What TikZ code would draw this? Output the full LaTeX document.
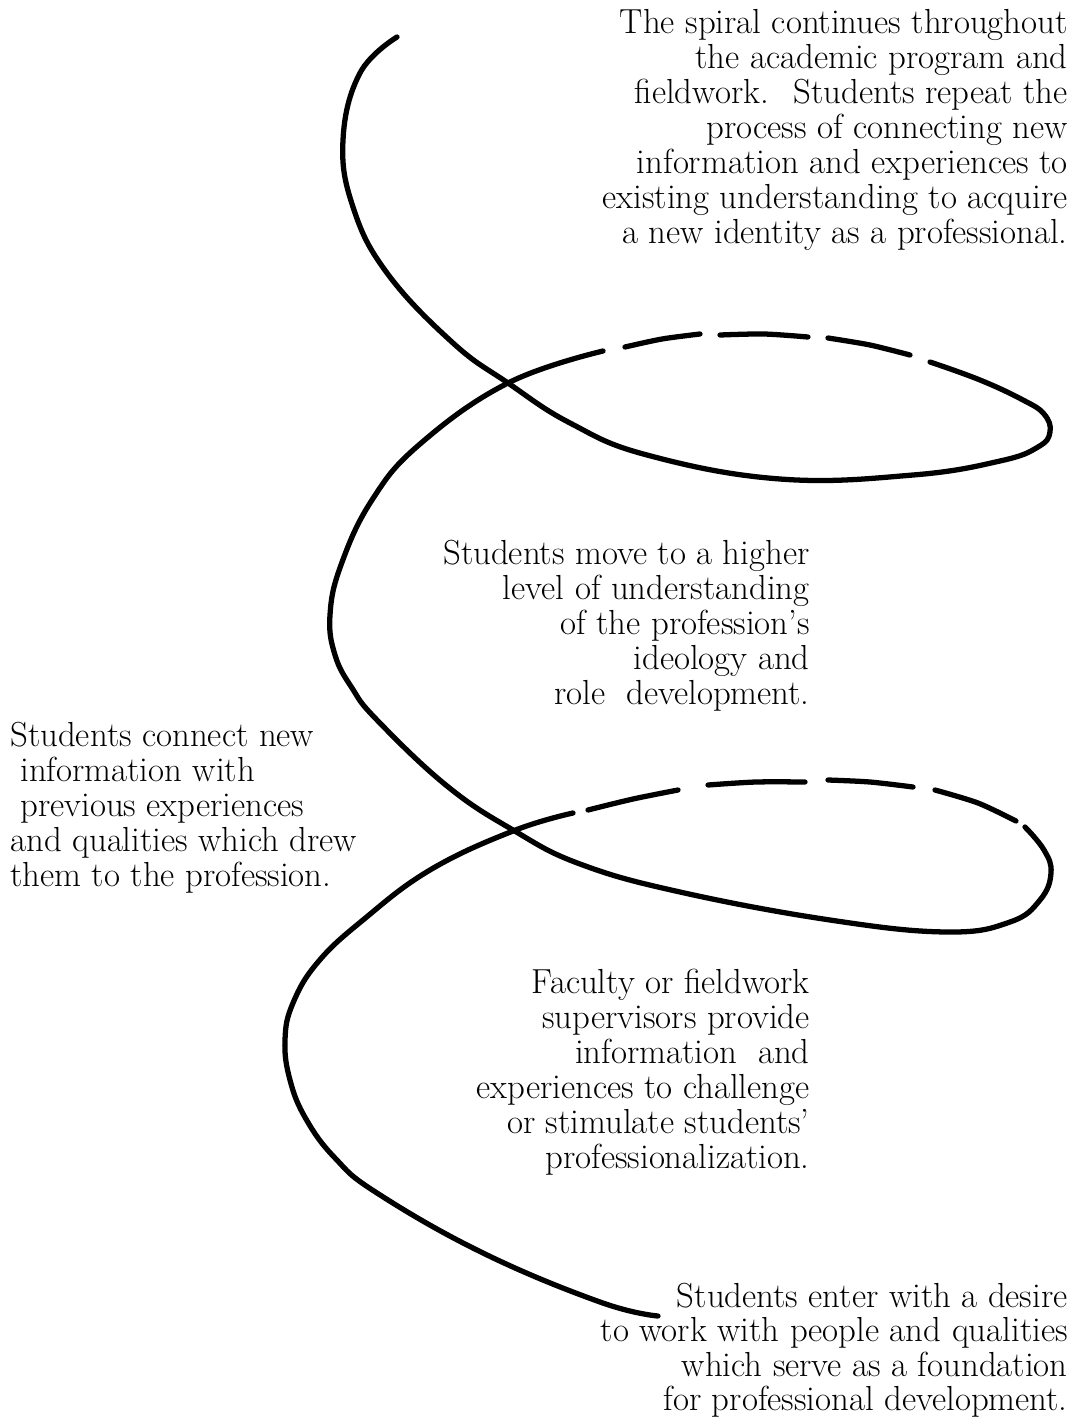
\documentclass[tikz,border=0pt]{standalone}
\usepackage{tikz}

\begin{document}
\begin{tikzpicture}[x=0.02cm, y=-0.02cm]
% Define the looks used below
\pgfmathsetmacro{\W}{3}
\tikzset{spiral/.style={line width=\W pt, line cap=round, line join=round},
         note/.style={inner sep=0pt, font=\fontsize{19.8}{19.9}\selectfont}}
\useasboundingbox (0,0) rectangle (1077,1420);

% Upper strand, from the loose end round the upper loop
\draw[spiral] plot[smooth, tension=0.7] coordinates {(397,37) (360,73) (343,140) (353,207) (387,273) (453,343) (508,383) (570,423) (647,455) (780,479) (913,475) (1000,461) (1038,447) (1050,432) (1044,414) (1023,400) (980,380) (930,362)};
% Upper loop, dashed back part
\draw[spiral] plot[smooth] coordinates {(910,355) (870,345) (828,338)};
\draw[spiral] plot[smooth] coordinates {(808,337) (764,334) (720,335)};
\draw[spiral] plot[smooth] coordinates {(700,334) (662,339) (625,347)};
% Middle strand, through both crossings round the lower loop
\draw[spiral] plot[smooth, tension=0.7] coordinates {(603,351) (508,383) (420,444) (372,500) (341,565) (330,615) (335,655) (352,688) (377,720) (447,786) (513,830) (580,864) (680,892) (830,920) (947,932) (1010,922) (1040,900) (1051,873) (1044,850) (1025,827)};
% Lower loop, dashed back part
\draw[spiral] plot[smooth] coordinates {(1016,821) (978,803) (935,790)};
\draw[spiral] plot[smooth] coordinates {(913,787) (870,782) (828,780)};
\draw[spiral] plot[smooth] coordinates {(805,782) (756,782) (708,785)};
\draw[spiral] plot[smooth] coordinates {(678,790) (633,799) (588,810)};
% Lower strand, down to the start
\draw[spiral] plot[smooth, tension=0.7] coordinates {(573,813) (513,831) (430,870) (363,920) (318,962) (293,1003) (285,1040) (290,1080) (306,1119) (335,1158) (377,1193) (483,1253) (600,1302) (658,1316)};

% Draw texts
\node[note, anchor=north east, align=right] (continues) at (1068,9)
  {The spiral continues throughout\\ the academic program and\\ fieldwork.~ Students repeat the\\ process of connecting new\\ information and experiences to\\ existing understanding to acquire\\ a new identity as a professional.};
\node[note, anchor=north east, align=right] (higher) at (810,540)
  {Students move to a higher\\ level of understanding\\ of the profession's\\ ideology and\\ role~ development.};
\node[note, anchor=north west, align=left] (connect) at (10,722)
  {Students connect new\\ \hspace*{0.2cm}information with\\ \hspace*{0.2cm}previous experiences\\ and qualities which drew\\ them to the profession.};
\node[note, anchor=north east, align=right] (faculty) at (810,969)
  {Faculty or fieldwork\\ supervisors provide\\ information~ and\\ experiences to challenge\\ or stimulate students'\\ professionalization.};
\node[note, anchor=north east, align=right, font=\fontsize{19.8}{19.5}\selectfont] (enter) at (1068,1283)
  {Students enter with a desire\\ to work with people and qualities\\ which serve as a foundation\\ for professional development.};
\end{tikzpicture}
\end{document}
